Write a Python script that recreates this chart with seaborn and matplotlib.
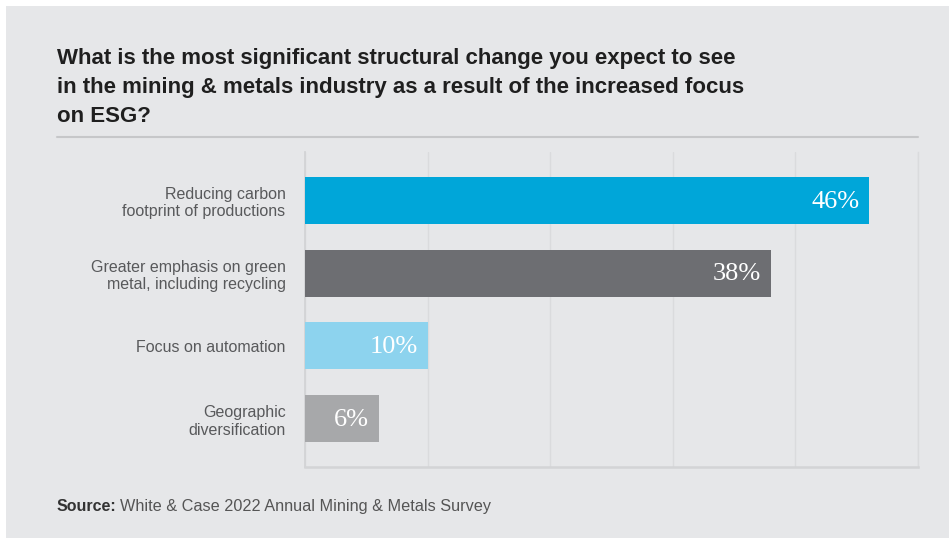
import matplotlib
matplotlib.use("Agg")
import matplotlib.pyplot as plt
import seaborn as sns
import pandas as pd
from matplotlib.lines import Line2D
from matplotlib.patches import Rectangle

categories = [
    "Reducing carbon\nfootprint of productions",
    "Greater emphasis on green\nmetal, including recycling",
    "Focus on automation",
    "Geographic\ndiversification",
]
values = [46, 38, 10, 6]
bar_colors = ["#00a6d9", "#6d6e72", "#8dd3ee", "#a7a8aa"]
title = ("What is the most significant structural change you expect to see\n"
         "in the mining & metals industry as a result of the increased focus\n"
         "on ESG?")
source_bold = "Source:"
source_text = "White & Case 2022 Annual Mining & Metals Survey"
x_ticks = [0, 10, 20, 30, 40, 50]

BG = "#e6e7e9"

sns.set_style("white")
plt.rcParams["font.family"] = ["Liberation Sans", "DejaVu Sans"]

W, H = 949, 538
fig = plt.figure(figsize=(W / 100, H / 100), dpi=100, facecolor="white")
fig.add_artist(Rectangle((6 / W, 0), 1, 1 - 6 / H, transform=fig.transFigure,
                         facecolor=BG, edgecolor="none", zorder=-10))

ax = fig.add_axes([305 / W, 1 - 467 / H, (918 - 305) / W, (467 - 152) / H])
ax.set_facecolor(BG)

df = pd.DataFrame({"category": categories, "value": values})
sns.barplot(data=df, x="value", y="category", hue="category",
            palette=bar_colors, orient="h", width=0.645, legend=False,
            saturation=1, linewidth=0, ax=ax, zorder=3)

ax.set_xlim(0, 50)
ax.set_ylim(3.66, -0.66)
ax.set_xticks(x_ticks)
ax.set_xticklabels([])
ax.tick_params(axis="x", length=0)
ax.tick_params(axis="y", length=0, pad=14)
ax.grid(axis="x", color="#dadbdd", linewidth=1, zorder=0)
ax.set_xlabel("")
ax.set_ylabel("")
for lbl in ax.get_yticklabels():
    lbl.set_fontsize(11.5)
    lbl.set_color("#58595b")
    lbl.set_horizontalalignment("right")
    lbl.set_multialignment("right")
    lbl.set_linespacing(1.2)

ax.spines["top"].set_visible(False)
ax.spines["left"].set_color("#d3d4d6")
ax.spines["left"].set_linewidth(1.3)
ax.spines["bottom"].set_color("#d3d4d6")
ax.spines["bottom"].set_linewidth(1.8)
ax.spines["right"].set_color("#dadbdd")
ax.spines["right"].set_linewidth(1)

for container in ax.containers:
    for bar in container:
        w = bar.get_width()
        ax.annotate(f"{w:.0f}%", xy=(w, bar.get_y() + bar.get_height() / 2),
                    xytext=(-7, -1), textcoords="offset points",
                    ha="right", va="center", color="white", fontsize=19,
                    family=["Liberation Serif", "DejaVu Serif"], zorder=5)

fig.text(57 / W, 1 - 48 / H, title, ha="left", va="top", fontsize=16,
         fontweight="bold", color="#1f1f1f", linespacing=1.5,
         family=["Liberation Sans", "DejaVu Sans"])
fig.add_artist(Line2D([57 / W, 918 / W], [1 - 137 / H, 1 - 137 / H],
                      transform=fig.transFigure, color="#c6c7c9", linewidth=1.5))

t1 = fig.text(57 / W, 1 - 511 / H, source_bold, ha="left", va="baseline",
              fontsize=11.5, fontweight="bold", color="#333333")
fig.canvas.draw()
bb = t1.get_window_extent(renderer=fig.canvas.get_renderer())
fig.text((bb.x1 + 3) / W, 1 - 511 / H, source_text, ha="left", va="baseline",
         fontsize=11.7, color="#555555")

fig.savefig("out.png", dpi=100, facecolor="white")
